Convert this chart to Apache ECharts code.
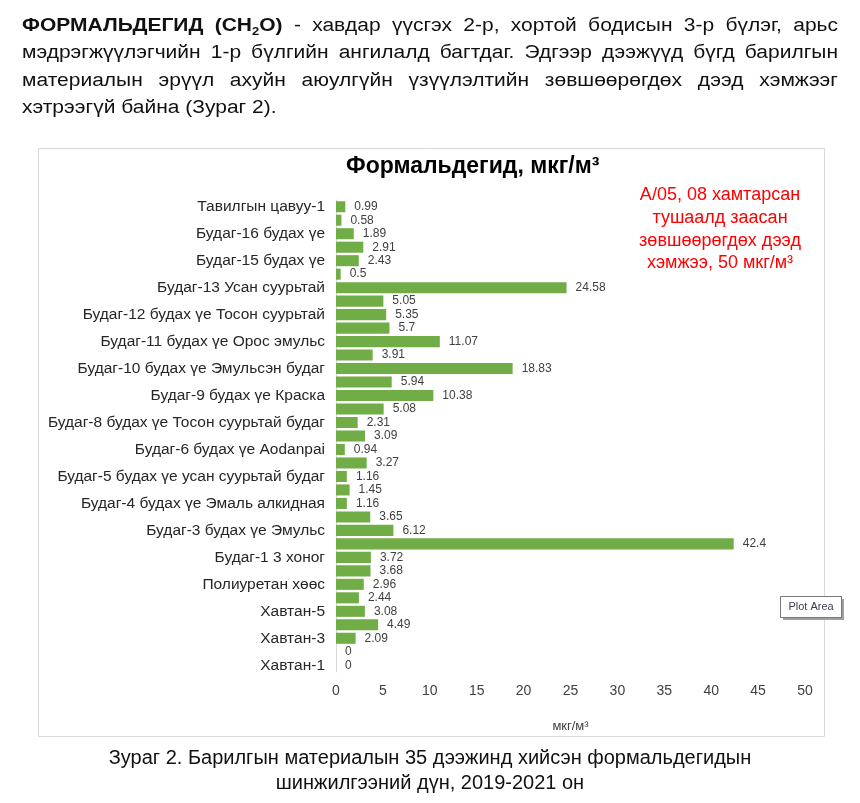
<!DOCTYPE html>
<html>
<head>
<meta charset="utf-8">
<script src="https://cdn.jsdelivr.net/npm/echarts@6/dist/echarts.min.js"></script>
<style>
  html, body { margin:0; padding:0; background:#fff; }
  body { width:860px; height:803px; position:relative; overflow:hidden; }
  #chart { position:absolute; left:0; top:0; width:860px; height:803px; }
  #para { position:absolute; left:22px; top:11px; width:816px; font-family:"Liberation Sans",Arial,sans-serif; font-size:21px; line-height:32.4px; color:#111; transform:scale(1,0.85); transform-origin:0 0; }
  #para .j { text-align:justify; text-align-last:justify; }
  #para .l { text-align:left; white-space:nowrap; }
  #para sub { font-size:13px; line-height:0; }
  #caption { position:absolute; left:0; top:745px; width:860px; text-align:center; font-family:"Liberation Sans",Arial,sans-serif; font-size:20px; line-height:25px; color:#111; }
</style>
</head>
<body>
<div id="chart"></div>
<div id="para">
  <div class="j"><b>ФОРМАЛЬДЕГИД (CH<sub>2</sub>O)</b> - хавдар үүсгэх 2-р, хортой бодисын 3-р бүлэг, арьс</div>
  <div class="j">мэдрэгжүүлэгчийн 1-р бүлгийн ангилалд багтдаг. Эдгээр дээжүүд бүгд барилгын</div>
  <div class="j">материалын эрүүл ахуйн аюулгүйн үзүүлэлтийн зөвшөөрөгдөх дээд хэмжээг</div>
  <div class="l">хэтрээгүй байна (Зураг 2).</div>
</div>
<div id="caption">Зураг 2. Барилгын материалын 35 дээжинд хийсэн формальдегидын<br>шинжилгээний дүн, 2019-2021 он</div>
<script>
// categories listed bottom to top (every other label is shown, as in the source chart)
const categories = [
  "Хавтан-1", "Хавтан-2", "Хавтан-3", "Хавтан-4", "Хавтан-5", "Хавтан-6",
  "Полиуретан хөөс", "Полиуретан хөөс-2", "Будаг-1 3 хоног", "Будаг-2",
  "Будаг-3 будах үе Эмульс", "Будаг-3 хатсан үе", "Будаг-4 будах үе Эмаль алкидная", "Будаг-4 хатсан үе",
  "Будаг-5 будах үе усан суурьтай будаг", "Будаг-5 хатсан үе", "Будаг-6 будах үе Aodanpai", "Будаг-7",
  "Будаг-8 будах үе Тосон суурьтай будаг", "Будаг-8 хатсан үе", "Будаг-9 будах үе Краска", "Будаг-9 хатсан үе",
  "Будаг-10 будах үе Эмульсэн будаг", "Будаг-10 хатсан үе", "Будаг-11 будах үе Орос эмульс", "Будаг-11 хатсан үе",
  "Будаг-12 будах үе Тосон суурьтай", "Будаг-12 хатсан үе", "Будаг-13 Усан суурьтай", "Будаг-14",
  "Будаг-15 будах үе", "Будаг-15 хатсан үе", "Будаг-16 будах үе", "Будаг-16 хатсан үе",
  "Тавилгын цавуу-1"
];
const values = [
  0, 0, 2.09, 4.49, 3.08, 2.44,
  2.96, 3.68, 3.72, 42.4,
  6.12, 3.65, 1.16, 1.45,
  1.16, 3.27, 0.94, 3.09,
  2.31, 5.08, 10.38, 5.94,
  18.83, 3.91, 11.07, 5.7,
  5.35, 5.05, 24.58, 0.5,
  2.43, 2.91, 1.89, 0.58,
  0.99
];
const xTicks = { min: 0, max: 50, interval: 5 };
const titleText = "Формальдегид, мкг/м³";
const axisUnit = "мкг/м³";
const noteText = "А/05, 08 хамтарсан\nтушаалд заасан\nзөвшөөрөгдөх дээд\nхэмжээ, 50 мкг/м³";

const chart = echarts.init(document.getElementById('chart'), null, { renderer: 'canvas' });
const font = '"Liberation Sans", Arial, sans-serif';
chart.setOption({
  animation: false,
  textStyle: { fontFamily: font },
  title: {
    text: titleText, left: 341, top: 150,
    textStyle: { fontSize: 23, fontWeight: 'bold', color: '#000', fontFamily: font }
  },
  grid: { left: 336, right: 55, top: 200, bottom: 131, containLabel: false },
  xAxis: {
    type: 'value', min: xTicks.min, max: xTicks.max, interval: xTicks.interval,
    name: axisUnit, nameLocation: 'middle', nameGap: 48,
    nameTextStyle: { fontSize: 13, color: '#404040', fontFamily: font },
    axisLine: { show: false }, axisTick: { show: false }, splitLine: { show: false },
    axisLabel: { fontSize: 14, color: '#404040', margin: 12, fontFamily: font }
  },
  yAxis: {
    type: 'category', data: categories,
    axisLine: { show: true, lineStyle: { color: '#d9d9d9', width: 1 } },
    axisTick: { show: false },
    axisLabel: { interval: 1, fontSize: 15.5, color: '#262626', margin: 11, fontFamily: font }
  },
  series: [{
    type: 'bar', data: values, barCategoryGap: '18%',
    itemStyle: { color: '#70ad47' },
    label: { show: true, position: 'right', distance: 9, fontSize: 12, color: '#404040', fontFamily: font }
  }],
  graphic: [
    { type: 'rect', shape: { x: 38.5, y: 148.5, width: 786, height: 588 }, style: { fill: 'none', stroke: '#d9d9d9', lineWidth: 1 }, z: -1 },
    { type: 'text', x: 720, y: 184, style: { text: noteText, textAlign: 'center', fontSize: 18, lineHeight: 22.7, fill: '#ff0000', fontFamily: font } },
    { type: 'rect', shape: { x: 783, y: 599, width: 61, height: 21 }, style: { fill: '#a0a0a0' }, z: 10 },
    { type: 'rect', shape: { x: 780.5, y: 596.5, width: 61, height: 21 }, style: { fill: '#ffffff', stroke: '#767676', lineWidth: 1 }, z: 11 },
    { type: 'text', x: 811, y: 607, style: { text: 'Plot Area', textAlign: 'center', textVerticalAlign: 'middle', fontSize: 11, fill: '#3b3b55', fontFamily: font }, z: 12 }
  ]
});
</script>
</body>
</html>
